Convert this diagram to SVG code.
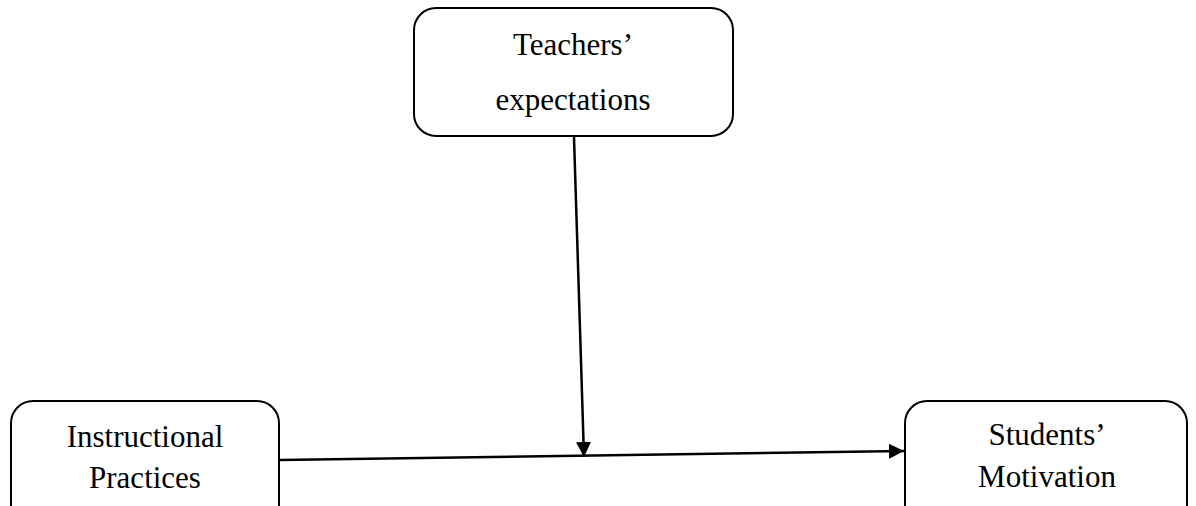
<svg xmlns="http://www.w3.org/2000/svg" width="1196" height="506" viewBox="0 0 1196 506">
  <style>
    .box { fill: #ffffff; stroke: #000000; stroke-width: 2; }
    .label { font-family: "Liberation Serif", "Times New Roman", serif; font-size: 31px; fill: #000000; text-anchor: middle; }
    .link { stroke: #000000; stroke-width: 2.5; fill: none; marker-end: url(#arrow); }
  </style>
  <defs>
    <marker id="arrow" viewBox="0 0 10 10" refX="10" refY="5" markerWidth="6" markerHeight="6" markerUnits="strokeWidth" orient="auto">
      <path d="M0,0 L10,5 L0,10 Z" fill="#000000"/>
    </marker>
  </defs>

  <g id="node-teachers-expectations">
    <rect class="box" x="414" y="8" width="319" height="128" rx="22" ry="22"/>
    <text class="label" x="573" y="55">Teachers’</text>
    <text class="label" x="573" y="110">expectations</text>
  </g>

  <g id="node-instructional-practices">
    <rect class="box" x="11" y="401" width="268" height="130" rx="22" ry="22"/>
    <text class="label" x="145" y="447">Instructional</text>
    <text class="label" x="145" y="488">Practices</text>
  </g>

  <g id="node-students-motivation">
    <rect class="box" x="905" y="401" width="282" height="130" rx="22" ry="22"/>
    <text class="label" x="1047" y="445">Students’</text>
    <text class="label" x="1047" y="487">Motivation</text>
  </g>

  <g id="connectors">
    <line class="link" x1="279" y1="460" x2="904" y2="451"/>
    <line class="link" x1="574" y1="137" x2="584" y2="457"/>
  </g>
</svg>
